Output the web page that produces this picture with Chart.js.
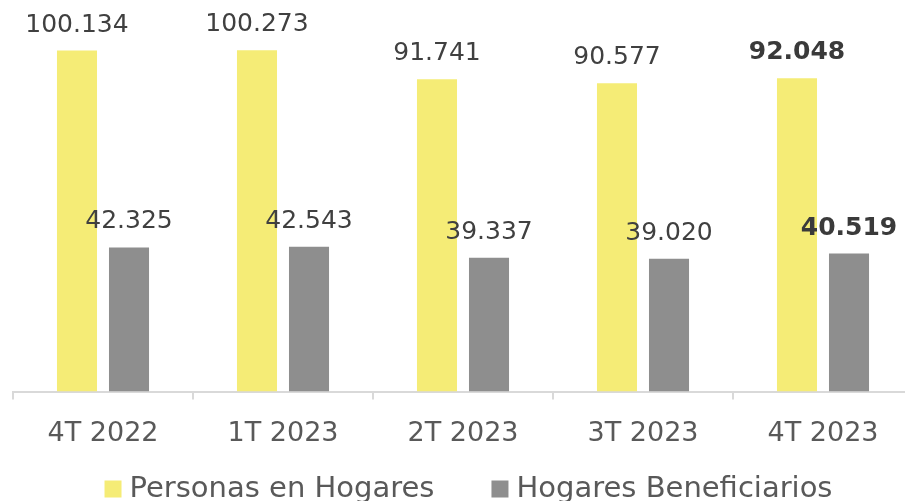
<!DOCTYPE html>
<html><head><meta charset="utf-8">
<script src="https://cdn.jsdelivr.net/npm/chart.js@4/dist/chart.umd.min.js"></script>
<style>
html,body{margin:0;padding:0;overflow:hidden;background:#fff;}
#wrap{width:913px;height:501px;position:relative;}
</style></head>
<body><div id="wrap"><canvas id="c"></canvas></div>
<script>
const categories = ["4T 2022","1T 2023","2T 2023","3T 2023","4T 2023"];
const personas = [100.134, 100.273, 91.741, 90.577, 92.048];
const hogares = [42.325, 42.543, 39.337, 39.020, 40.519];
const seriesNames = ["Personas en Hogares","Hogares Beneficiarios"];
const FONT = "'DejaVu Sans', sans-serif";

function fmt(v){ return v.toFixed(3); }

const labelPlugin = {
  id:'lbls',
  afterDatasetsDraw(chart){
    const ctx = chart.ctx;
    chart.data.datasets.forEach((ds,di)=>{
      const meta = chart.getDatasetMeta(di);
      meta.data.forEach((bar,i)=>{
        const last = i === ds.data.length-1;
        ctx.save();
        ctx.font = (last ? 'bold ' : '') + '25px ' + FONT;
        ctx.fillStyle = last ? '#3a3a3a' : '#404040';
        ctx.textAlign = 'center';
        ctx.textBaseline = 'alphabetic';
        ctx.fillText(fmt(ds.data[i]), bar.x, bar.y - 19);
        ctx.restore();
      });
    });
  }
};

const legendPlugin = {
  id:'customLegend',
  afterDraw(chart){
    const ctx = chart.ctx;
    ctx.save();
    ctx.font = '29px ' + FONT;
    const box = 17, gap = 8, itemGap = 57;
    const items = chart.data.datasets.map(ds=>({text:ds.label, color:ds.backgroundColor, w:ctx.measureText(ds.label).width}));
    let total = 0;
    items.forEach((it,i)=>{ total += box + gap + it.w + (i < items.length-1 ? itemGap : 0); });
    let x = 468.5 - total/2;
    const cy = 489;
    ctx.textBaseline = 'middle';
    ctx.textAlign = 'left';
    items.forEach(it=>{
      ctx.fillStyle = it.color;
      ctx.fillRect(x, cy - box/2, box, box);
      x += box + gap;
      ctx.fillStyle = '#595959';
      ctx.fillText(it.text, x, cy);
      x += it.w + itemGap;
    });
    ctx.restore();
  }
};

new Chart(document.getElementById('c'), {
  type:'bar',
  data:{
    labels: categories,
    datasets:[
      {label:seriesNames[0], data:personas, backgroundColor:'#F5EC76', categoryPercentage:0.578, barPercentage:0.77},
      {label:seriesNames[1], data:hogares, backgroundColor:'#8E8E8E', categoryPercentage:0.578, barPercentage:0.77}
    ]
  },
  options:{
    responsive:true, maintainAspectRatio:false, animation:false,
    layout:{padding:{left:13,right:0,top:0,bottom:33}},
    plugins:{
      tooltip:{enabled:false},
      legend:{display:false}
    },
    scales:{
      y:{display:false, min:0, max:115},
      x:{
        grid:{offset:true, drawOnChartArea:false, tickLength:8, color:'#d9d9d9', lineWidth:2},
        border:{color:'#d9d9d9', width:2},
        ticks:{font:{family:FONT,size:27}, color:'#595959', padding:18}
      }
    }
  },
  plugins:[labelPlugin, legendPlugin]
});
</script></body></html>
